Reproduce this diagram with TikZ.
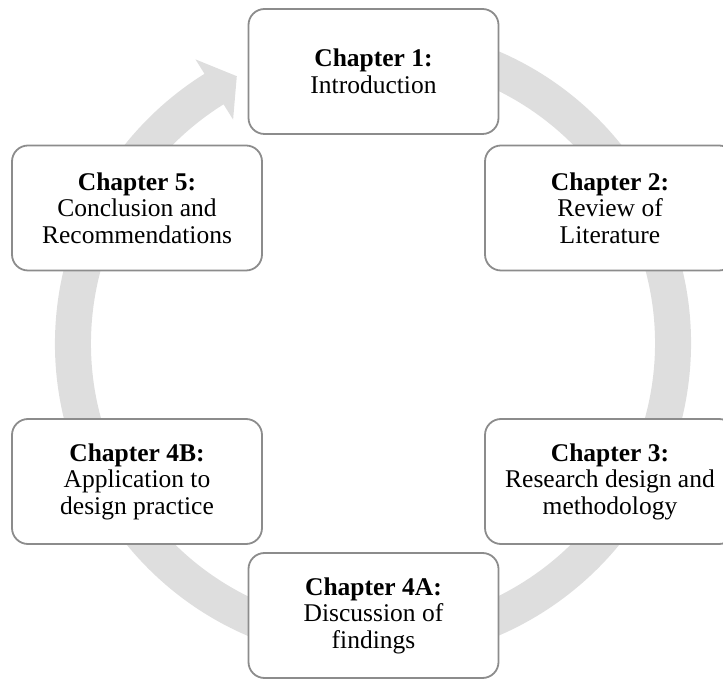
\documentclass[tikz,border=0pt]{standalone}
\usepackage{fontspec}
\setmainfont{Liberation Serif}
\definecolor{ringgray}{RGB}{222,222,222}
\definecolor{boxgray}{RGB}{140,140,140}
\begin{document}
\begin{tikzpicture}[x=1pt,y=1pt,
  chapbox/.style={draw=boxgray, line width=1.8pt, fill=white,
    rounded corners=16pt, minimum width=250pt, minimum height=125pt,
    inner sep=0pt, align=center,
    font=\fontsize{25.5}{26.5}\selectfont}]
\useasboundingbox (0,0) rectangle (723,680);
\clip (0,0) rectangle (723,680);

% continuous cycle arrow behind the chapters
\coordinate (C) at (373,336.5);
\begin{scope}[shift={(C)}]
  \fill[ringgray] (80:318pt) arc[start angle=80, end angle=-238, radius=318pt]
    -- (-238:335pt) -- (-243:300pt) -- (-238:264pt) -- (-238:282pt)
    arc[start angle=-238, end angle=80, radius=282pt] -- cycle;
\end{scope}

% chapters
\node[chapbox] (c1)  at (373.5,608.5) {\textbf{Chapter 1:}\\Introduction};
\node[chapbox] (c2)  at (610,472)     {\textbf{Chapter 2:}\\Review of\\Literature};
\node[chapbox] (c3)  at (610,198.5)   {\textbf{Chapter 3:}\\Research design and\\methodology};
\node[chapbox] (c4a) at (373.5,64.5)  {\textbf{Chapter 4A:}\\Discussion of\\findings};
\node[chapbox] (c4b) at (137,198.5)   {\textbf{Chapter 4B:}\\Application to\\design practice};
\node[chapbox] (c5)  at (137,472)     {\textbf{Chapter 5:}\\Conclusion and\\Recommendations};
\end{tikzpicture}
\end{document}
